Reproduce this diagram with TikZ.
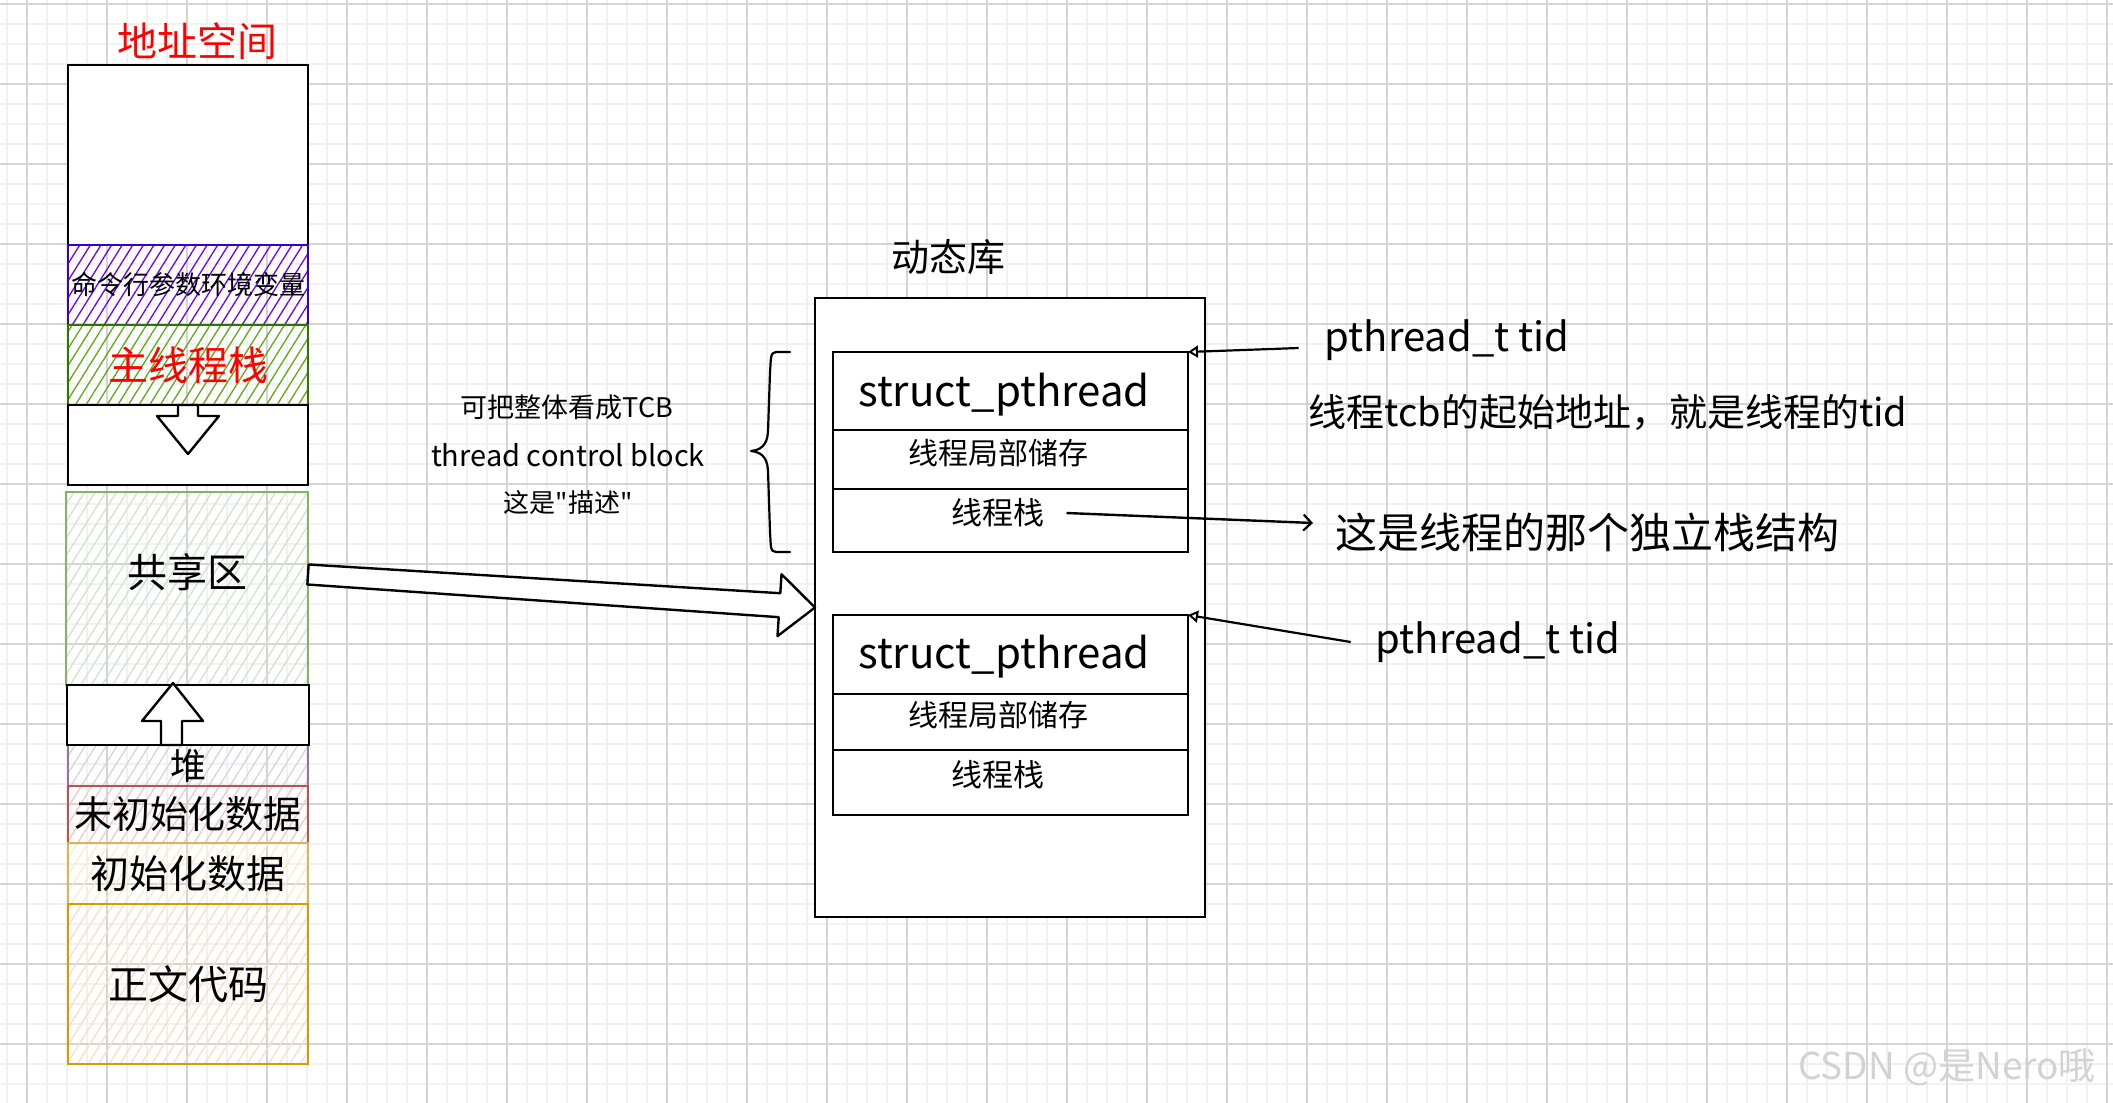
\documentclass[tikz,border=0pt]{standalone}
\usepackage{fontspec}
\setmainfont{Noto Sans CJK SC}
\newfontfamily\qf{Noto Sans CJK SC}
\usetikzlibrary{patterns.meta,arrows.meta,calc}
\definecolor{gridminor}{HTML}{F1F1F1}
\definecolor{gridmajor}{HTML}{D4D4D4}
\definecolor{violetS}{HTML}{3700CC}
\definecolor{violetF}{HTML}{6A00FF}
\definecolor{greenS}{HTML}{2D7600}
\definecolor{greenF}{HTML}{60A917}
\definecolor{lgS}{HTML}{82B366}
\definecolor{lgF}{HTML}{CFE4CD}
\definecolor{lpS}{HTML}{9673A6}
\definecolor{lpF}{HTML}{DCCFE3}
\definecolor{lrS}{HTML}{B85450}
\definecolor{lrF}{HTML}{F5C6C4}
\definecolor{lyS}{HTML}{D6B656}
\definecolor{lyF}{HTML}{FCEDC0}
\definecolor{loS}{HTML}{D79B00}
\definecolor{loF}{HTML}{FCDFC0}
\definecolor{wmark}{HTML}{D2D2D2}
\begin{document}
\begin{tikzpicture}[x=1pt,y=-1pt,
  gminor/.style={draw=gridminor, line width=1.6pt},
  gmajor/.style={draw=gridmajor, line width=1.6pt},
  box/.style={rectangle, draw, line width=2.6pt, inner sep=0pt, outer sep=0pt, anchor=north west},
  whitebox/.style={box, fill=white},
  hatchbox/.style 2 args={box, draw=#1, pattern={Lines[angle=58,distance=9pt,line width=1.3pt]}, pattern color=#2},
  txt/.style={inner sep=0pt, outer sep=0pt, font=\fontsize{#1}{#1}\selectfont},
  blockarrow/.style={draw, fill=white, line width=2.4pt, line join=round},
  tidarrow/.style={draw, line width=2.2pt, -{Triangle[open,length=10pt,width=12pt,line width=2pt]}},
  stackarrow/.style={draw, line width=2.4pt, -{Straight Barb[length=8pt,width=16pt,line width=2.2pt]}}
]
\useasboundingbox (0,0) rectangle (2113,1103);
\fill[white] (0,0) rectangle (2113,1103);
% grid
\foreach \i in {0,...,105} \draw[gminor] ({7+20*\i},0) -- ({7+20*\i},1103);
\foreach \i in {0,...,55} \draw[gminor] (0,{4+20*\i}) -- (2113,{4+20*\i});
\foreach \i in {0,...,26} \draw[gmajor] ({27+80*\i},0) -- ({27+80*\i},1103);
\foreach \i in {0,...,13} \draw[gmajor] (0,{4+80*\i}) -- (2113,{4+80*\i});

% ---------- address space column ----------
\node[txt=40, text=red] (title) at (197,41) {地址空间};
\node[whitebox, minimum width=240pt, minimum height=180pt] (top) at (68,65) {};
\node[hatchbox={violetS}{violetF}, minimum width=240pt, minimum height=80pt, font=\fontsize{26}{26}\selectfont] (cmd) at (68,245) {命令行参数环境变量};
\node[hatchbox={greenS}{greenF}, minimum width=240pt, minimum height=80pt, font=\fontsize{40}{40}\selectfont, text=red] (mstack) at (68,325) {主线程栈};
\node[whitebox, minimum width=240pt, minimum height=80pt] (downgap) at (68,405) {};
\draw[blockarrow] (178,405) -- (198,405) -- (198,416) -- (219,416) -- (188,454) -- (157,416) -- (178,416) -- cycle;
\node[hatchbox={lgS}{lgF}, minimum width=242pt, minimum height=193pt] (shared) at (66,492) {};
\node[txt=40] (sharedtxt) at (187,572) {共享区};
\node[hatchbox={lpS}{lpF}, minimum width=240pt, minimum height=41pt, font=\fontsize{36}{36}\selectfont] (heap) at (68,745) {堆};
\node[whitebox, minimum width=242pt, minimum height=60pt] (upgap) at (67,685) {};
\draw[blockarrow] (173,683) -- (203,721) -- (182,721) -- (182,745) -- (161,745) -- (161,721) -- (142,721) -- cycle;
\node[hatchbox={lrS}{lrF}, minimum width=240pt, minimum height=57pt, font=\fontsize{38}{38}\selectfont] (bss) at (68,786) {未初始化数据};
\node[hatchbox={lyS}{lyF}, minimum width=240pt, minimum height=61pt, font=\fontsize{39}{39}\selectfont] (data) at (68,843) {初始化数据};
\node[hatchbox={loS}{loF}, minimum width=240pt, minimum height=160pt, font=\fontsize{40}{40}\selectfont] (code) at (68,904) {正文代码};

% ---------- dynamic library ----------
\node[txt=38] (libtitle) at (948,257) {动态库};
\node[whitebox, minimum width=390pt, minimum height=619pt] (lib) at (815,298) {};
\node[whitebox, minimum width=355pt, minimum height=78pt] (sp1) at (833,352) {};
\node[whitebox, minimum width=355pt, minimum height=59pt] (tls1) at (833,430) {};
\node[whitebox, minimum width=355pt, minimum height=63pt] (stk1) at (833,489) {};
\node[whitebox, minimum width=355pt, minimum height=79pt] (sp2) at (833,615) {};
\node[whitebox, minimum width=355pt, minimum height=56pt] (tls2) at (833,694) {};
\node[whitebox, minimum width=355pt, minimum height=65pt] (stk2) at (833,750) {};
\node[txt=42] (sp1txt) at (1004,395) {struct\_pthread};
\node[txt=30] (tls1txt) at (998,453) {线程局部储存};
\node[txt=31] (stk1txt) at (998,513) {线程栈};
\node[txt=42] (sp2txt) at (1004,657) {struct\_pthread};
\node[txt=30] (tls2txt) at (998,715) {线程局部储存};
\node[txt=31] (stk2txt) at (998,775) {线程栈};

% TCB description and brace
\node[txt=27] (tcb1) at (567,407) {可把整体看成TCB};
\node[txt=29] (tcb2) at (568,455) {thread control block};
\node[txt=26] (tcb3) at (568,503) {这是{\qf"}描述{\qf"}};
\draw[line width=2.2pt, line cap=round, line join=round]
  (790,352) -- (776,352) .. controls (770,352) and (771,360) .. (770,372)
  -- (768,432) .. controls (767,446) and (760,450) .. (751,451)
  .. controls (760,452) and (767,456) .. (768,470)
  -- (770,532) .. controls (771,546) and (770,552) .. (776,552) -- (790,552);

% big block arrow from shared area to library
\coordinate (bigA) at ([yshift=14pt]shared.east);
\coordinate (bigB) at (lib.west);
\coordinate (bigH) at ($(bigA)!0.93!(bigB)$);
\draw[blockarrow] ($(bigA)!10pt!90:(bigB)$) -- ($(bigH)!12pt!90:(bigB)$) -- ($(bigH)!31pt!90:(bigB)$)
  -- (bigB) -- ($(bigH)!31pt!-90:(bigB)$) -- ($(bigH)!12pt!-90:(bigB)$) -- ($(bigA)!10pt!-90:(bigB)$) -- cycle;

% right annotations
\node[txt=40] (tid1) at (1447,340) {pthread\_t tid};
\node[txt=38] (tcbnote) at (1608,412) {线程tcb的起始地址，就是线程的tid};
\node[txt=42] (stackdesc) at (1587,532) {这是线程的那个独立栈结构};
\node[txt=40] (tid2) at (1498,642) {pthread\_t tid};
\draw[tidarrow] ([shift={(-26pt,-8pt)}]tid1.west) -- (sp1.north east);
\draw[tidarrow] ([xshift=-25pt]tid2.west) -- (sp2.north east);
\draw[stackarrow] ([xshift=22pt]stk1txt.east) -- ([shift={(-22pt,9pt)}]stackdesc.west);

% watermark
\node[txt=37, text=wmark] (wm) at (1947,1067) {CSDN @是Nero哦};
\end{tikzpicture}
\end{document}
